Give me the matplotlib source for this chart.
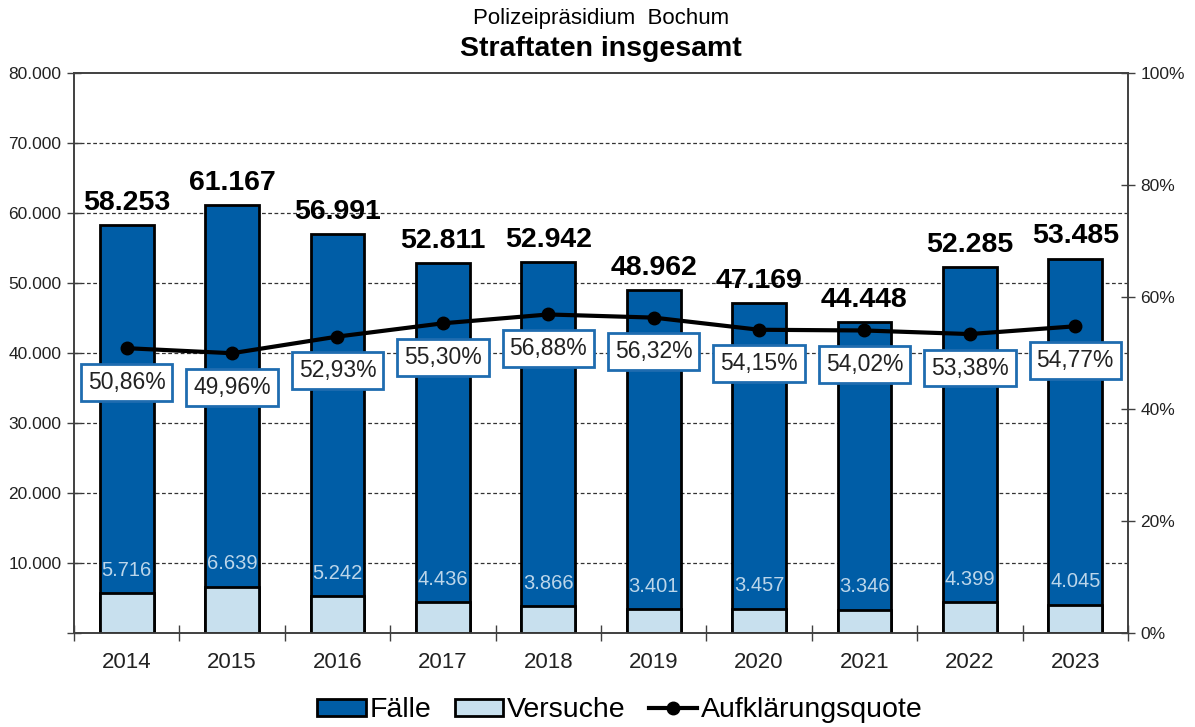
import numpy as np
import matplotlib.pyplot as plt
from matplotlib.ticker import FuncFormatter

plt.rcParams['font.family'] = ['Liberation Sans', 'DejaVu Sans']

years = ["2014", "2015", "2016", "2017", "2018", "2019", "2020", "2021", "2022", "2023"]
faelle = [58253, 61167, 56991, 52811, 52942, 48962, 47169, 44448, 52285, 53485]
versuche = [5716, 6639, 5242, 4436, 3866, 3401, 3457, 3346, 4399, 4045]
quote = [50.86, 49.96, 52.93, 55.30, 56.88, 56.32, 54.15, 54.02, 53.38, 54.77]

dark_blue = "#005da6"
light_blue = "#c8e0ee"
spine_col = "#404040"


def de_num(v):
    return f"{v:,.0f}".replace(",", ".")


fig = plt.figure(figsize=(11.95, 7.27), dpi=100)
ax = fig.add_axes([0.0619, 0.1293, 0.8820, 0.7703])
ax2 = ax.twinx()

x = np.arange(len(years))
w = 0.51

# Fälle behind, Versuche in front (both from zero)
ax.bar(x, faelle, w, color=dark_blue, edgecolor="black", linewidth=2, zorder=2, label="Fälle")
ax.bar(x, versuche, w, color=light_blue, edgecolor="black", linewidth=2, zorder=3, label="Versuche")

for xi, v in zip(x, faelle):
    ax.annotate(de_num(v), (xi, v), xytext=(0, 11), textcoords="offset points",
                ha="center", va="baseline", fontsize=20.5, fontweight="bold", zorder=5)
for xi, v in zip(x, versuche):
    ax.annotate(de_num(v), (xi, v), xytext=(0, 16.5), textcoords="offset points",
                ha="center", va="center", fontsize=14.5, color="#bcd6ea", zorder=5)

ax.set_xlim(-0.5, len(years) - 0.5)
ax.set_ylim(0, 80000)
ax.set_yticks(np.arange(0, 80001, 10000))
ax.yaxis.set_major_formatter(FuncFormatter(lambda v, p: "" if v == 0 else de_num(v)))
ax.tick_params(axis="y", direction="inout", length=10, width=1, labelsize=12.5,
               colors=spine_col, labelcolor="#222222", pad=4)

# boundaries as major ticks, year labels as minor ticks
ax.set_xticks(np.arange(-0.5, len(years), 1.0))
ax.set_xticklabels([])
ax.set_xticks(x, minor=True)
ax.set_xticklabels(years, minor=True, fontsize=16, color="#222222")
ax.tick_params(axis="x", which="major", direction="inout", length=12, width=1, colors=spine_col)
ax.tick_params(axis="x", which="minor", length=0, pad=14)

for yv in range(10000, 80000, 10000):
    ax.axhline(yv, color="#333333", linestyle=(0, (3, 2)), linewidth=0.9, zorder=1)

for s in ax.spines.values():
    s.set_color(spine_col)
    s.set_linewidth(1.2)
for s in ax2.spines.values():
    s.set_color(spine_col)
    s.set_linewidth(1.2)

# Aufklärungsquote on the right axis
ax2.plot(x, quote, color="black", linewidth=3, marker="o", markersize=9,
         zorder=6, label="Aufklärungsquote")
ax2.set_ylim(0, 100)
ax2.set_yticks(np.arange(0, 101, 20))
ax2.yaxis.set_major_formatter(FuncFormatter(lambda v, p: f"{v:.0f}%"))
ax2.tick_params(axis="y", direction="inout", length=10, width=1, labelsize=12.5,
                colors=spine_col, labelcolor="#222222", pad=4)
for xi, q in zip(x, quote):
    ax2.annotate(f"{q:.2f}%".replace(".", ","), (xi, q), xytext=(0, -24.5),
                 textcoords="offset points", ha="center", va="center", fontsize=16.5,
                 color="#222222", zorder=7,
                 bbox=dict(boxstyle="square,pad=0.3", fc="white", ec="#1f6cb0", lw=2))

ax.set_zorder(ax2.get_zorder() - 1)
ax2.patch.set_visible(False)

fig.text(0.503, 0.975, "Polizeipräsidium  Bochum", ha="center", va="center", fontsize=16)
fig.text(0.503, 0.932, "Straftaten insgesamt", ha="center", va="center",
         fontsize=20.5, fontweight="bold")

h1, l1 = ax.get_legend_handles_labels()
h2, l2 = ax2.get_legend_handles_labels()
fig.legend(h1 + h2, l1 + l2, loc="lower center", bbox_to_anchor=(0.519, -0.03), ncol=3,
           frameon=False, fontsize=20.5, handlelength=1.7, handleheight=0.55,
           handletextpad=0.15, columnspacing=0.8)

fig.savefig("out.png", dpi=100)
